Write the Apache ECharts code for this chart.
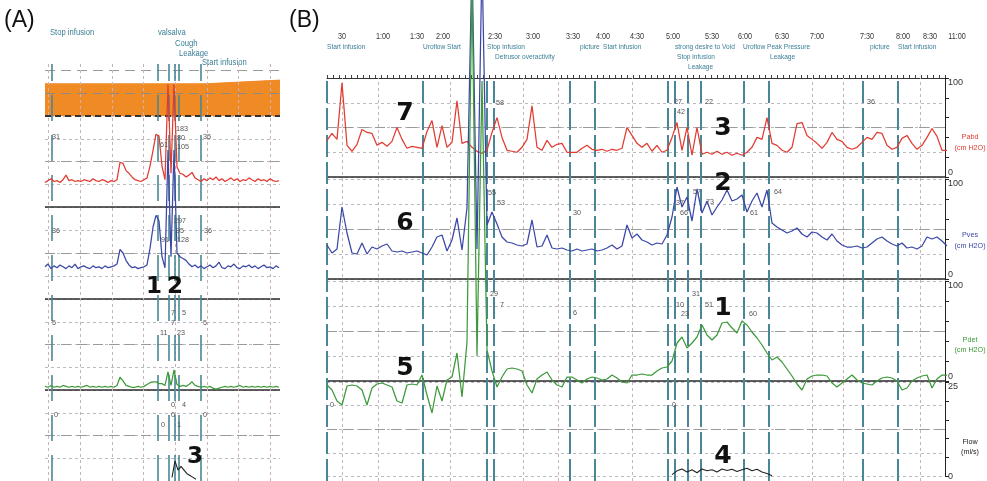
<!DOCTYPE html>
<html>
<head>
<meta charset="utf-8">
<script src="https://cdn.jsdelivr.net/npm/echarts@6.0.0/dist/echarts.min.js"></script>
<style>
html,body{margin:0;padding:0;background:#fff;}
#chart{width:987px;height:481px;}
</style>
</head>
<body>
<div id="chart"></div>
<script>
// ================= DATA =================
// Panel B : one sample every 5 time units (axis 0..618)
const pabdB = [37,44,38,95,32,26,33,48,45,44,
 32,35,31,36,50,38,29,31,30,29,
 46,57,30,52,30,35,77,34,36,30,
 26,24,27,45,60,40,27,26,25,30,
 38,72,30,27,37,30,33,34,25,25,
 25,29,32,28,27,28,26,28,27,29,
 50,42,34,30,34,26,32,25,27,40,
 55,27,50,22,50,23,25,23,26,23,
 25,22,24,22,25,30,40,38,60,34,
 32,27,25,30,54,55,42,38,34,29,
 35,45,38,36,30,28,30,35,40,38,
 45,44,32,28,30,39,42,34,28,32,
 40,49,41,27,27];
const pvesB = [34,26,30,72,46,26,25,36,25,32,
 30,33,35,28,27,28,26,27,28,26,
 24,32,42,44,28,39,61,29,71,320,
 30,320,54,67,55,42,37,36,34,33,
 35,59,32,33,44,31,30,31,29,28,
 30,28,29,30,28,29,31,34,30,33,
 54,41,45,39,37,34,36,35,44,62,
 92,72,82,58,90,66,78,64,72,79,
 89,78,80,84,67,78,86,72,89,56,
 52,49,46,48,51,45,42,47,46,42,
 39,45,38,34,32,32,33,31,32,36,
 40,42,38,35,33,36,31,32,30,33,
 42,40,42,38,33];
const pdetB = [-4,-9,-20,-24,-5,-4,-5,-9,-24,-7,
 -3,-2,-4,-6,-20,-22,-4,-3,-4,6,
 -14,-32,-5,-20,1,4,28,-16,39,400,
 25,300,31,10,-6,4,12,13,12,10,
 -4,-12,2,6,9,1,-4,-6,4,4,
 1,-2,2,4,3,1,2,6,3,-1,
 -2,6,6,7,6,6,10,13,14,20,
 38,44,33,38,44,56,46,41,46,58,
 59,53,48,60,56,49,43,36,28,21,
 24,19,12,5,-3,-9,2,5,6,6,
 5,-2,-6,-2,2,6,1,-2,-3,-4,
 0,3,4,3,0,-9,-7,0,3,5,
 6,-7,2,6,6];
const flowB = [[345,0.5],[350,1.5],[355,2],[360,1.2],[365,1.8],[370,1],[375,2],[380,1.5],[385,1.8],[390,1.2],[395,2],[400,1.6],[405,1.9],[410,1.3],[415,1.8],[420,2.2],[425,1.5],[430,1.9],[435,1.2],[440,0.8],[445,0.2]];
const timeLabels = ['30','1:00','1:30','2:00','2:30','3:00','3:30','4:00','4:30','5:00','5:30','6:00','6:30','7:00','7:30','8:00','8:30','11:00'];
const timePos = [15,56,90,116,168,206,246,276,310,346,385,418,455,490,540,576,603,630];
const eventMarkersB = [0,96,160,167,243,268,341,348,361,374,417,442,536,571];
const eventLabelsB = ['Start infusion','Uroflow Start','Stop infusion','Detrusor overactivity','picture','Start infusion','strong desire to Void','Stop infusion','Leakage','Uroflow Peak Pressure','Leakage','picture','Start infusion'];
const eventLabelPosB = [0,96,160,168,253,276,348,350,361,416,443,543,571];
const eventLabelRowB = [0,0,0,1,0,0,0,1,2,0,1,0,0];
const gridLinesB = [15,51,123,196,231,305,485,516,593];

// Panel A : one sample every 3 time units (axis 0..235)
const volAx = [0,160,235];
const volAy = [70,70,78];
const pabdA = [27,29,31,28,29,27,30,35,29,30,
 28,29,28,30,29,28,31,29,28,30,
 29,27,29,28,30,49,48,40,37,33,
 30,29,28,30,32,45,62,80,78,45,
 30,135,37,135,44,37,36,33,35,38,
 32,30,28,31,29,32,30,33,29,31,
 28,30,32,29,31,28,30,29,32,30,
 28,31,29,30,28,31,29,28,29];
const pvesA = [35,38,33,36,34,37,35,33,36,34,
 38,33,35,36,34,33,36,34,35,33,
 36,34,35,36,38,54,50,42,37,34,
 35,33,34,35,37,55,78,91,85,46,
 34,162,46,162,50,46,44,42,38,35,
 37,34,36,33,35,37,34,36,40,34,
 33,36,35,38,34,33,36,35,37,34,
 36,33,35,37,34,35,33,36,34];
const pdetA = [4,3,5,3,4,3,5,4,3,4,
 3,4,3,4,5,3,4,3,4,3,
 4,3,4,3,5,14,10,5,4,3,
 3,4,3,4,6,8,9,9,7,7,
 5,20,5,22,6,4,5,4,6,9,
 5,4,3,4,3,4,2,1,2,3,
 4,3,4,3,4,5,3,4,3,4,
 3,4,3,4,3,4,3,4,3];
const flowA = [[127,1],[130,5.5],[133,3],[136,4],[139,3],[142,2],[145,1.5],[148,1],[151,0.5]];
const eventMarkersA = [7,113,124,130,134,156];
const eventLabelsA = ['Stop infusion','valsalva','Cough','Leakage','Start infusion'];
const eventLabelPosA = [5,113,130,134,157];
const eventLabelRowA = [0,0,1,2,3];
const gridLinesA = [3,35,67,98,130,162,193,225];

// ================= CHART =================
const FONT = '"Liberation Sans", Arial, sans-serif';
const RED = '#e23b30', BLUE = '#3b47a6', GREEN = '#3d9a3a', TEAL = '#4a8796', BLACK = '#222';
const chart = echarts.init(document.getElementById('chart'));

const A_MAX = 235, B_MAX = 618;
const grids = [
  {left:45, top:70, width:235, height:46},
  {left:45, top:116, width:235, height:91},
  {left:45, top:207, width:235, height:92},
  {left:45, top:299, width:235, height:91},
  {left:45, top:390, width:235, height:93},
  {left:327, top:78, width:618, height:99},
  {left:327, top:179, width:618, height:100},
  {left:327, top:281, width:618, height:100},
  {left:327, top:382, width:618, height:96},
  {left:45, top:64, width:235, height:420},
  {left:327, top:78, width:618, height:406}
];

const xAxis = grids.map((g,i) => {
  const isB = (i >= 5 && i <= 8) || i === 10;
  const ax = {type:'value', gridIndex:i, min:0, max: isB ? B_MAX : A_MAX, show:false};
  if (i === 5) {
    Object.assign(ax, {show:true, position:'top', interval:6,
      axisLine:{show:true, onZero:false, lineStyle:{color:'#333', width:1}},
      axisTick:{show:true, length:3, lineStyle:{color:'#444'}},
      axisLabel:{show:false}, splitLine:{show:false}});
  }
  return ax;
});

const splitStyle = {show:true, lineStyle:{color:'#b9b9c4', type:[3,3], width:1}};
function gridY(gi, max, interval, split) {
  return {type:'value', gridIndex:gi, min:0, max:max, interval:interval,
    axisLine:{show:false}, axisTick:{show:false}, axisLabel:{show:false},
    splitLine: split ? splitStyle : {show:false}};
}
const yAxis = [
  gridY(0,100,50,false),   //0
  gridY(1,100,25,true),    //1
  gridY(2,100,25,true),    //2
  gridY(3,100,25,true),    //3
  gridY(4,25,6.25,true),   //4
  gridY(5,100,25,true),    //5
  gridY(6,100,25,true),    //6
  gridY(7,100,25,true),    //7
  gridY(8,25,6.25,true)    //8
];
function rightY(gi, max, interval) {
  return {type:'value', gridIndex:gi, min:0, max:max, interval:interval, position:'right',
    axisLine:{show:true, lineStyle:{color:'#222', width:1}},
    axisTick:{show:true, length:4, lineStyle:{color:'#222'}},
    splitLine:{show:false},
    axisLabel:{show:true, color:'#333', fontSize:9, fontFamily:'Arial', margin:3,
      formatter: v => v === max ? ' \n' + v : (v === 0 ? (max === 100 ? '0\n ' : '0') : '')}};
}
yAxis.push(rightY(5,100,20));  //9
yAxis.push(rightY(6,100,20));  //10
yAxis.push(rightY(7,100,20));  //11
yAxis.push(rightY(8,25,5));    //12
yAxis.push({type:'value', gridIndex:9, min:0, max:1, show:false});  //13
yAxis.push({type:'value', gridIndex:10, min:0, max:1, show:false}); //14

const ML = (lines) => ({symbol:['none','none'], silent:true, animation:false, z:3,
  label:{show:false}, emphasis:{disabled:true}, data: lines});
const hLine = (v, color, type, width) => ({yAxis:v, lineStyle:{color, type, width}});
const vLine = (v, color, type, width) => ({xAxis:v, lineStyle:{color, type, width}});

function trace(arr, step, xi, yi, color, marks) {
  return {type:'line', xAxisIndex:xi, yAxisIndex:yi, data: arr.map((v,i)=>[i*step, v]),
    symbol:'none', clip:false, z:4, lineStyle:{color, width:1.25}, animation:false,
    markLine: ML(marks)};
}
const rowMarks = (mid) => [hLine(0,'#2b2b2b','solid',1.5), hLine(mid,'#9a9a9a',[10,6],1.2)];

const series = [
  {type:'line', xAxisIndex:0, yAxisIndex:0, data: volAx.map((x,i)=>[x, volAy[i]]),
   symbol:'none', z:1, animation:false, lineStyle:{color:'#f08a24', width:1},
   areaStyle:{color:'#f08a24', opacity:1},
   markLine: Object.assign(ML([hLine(0,'#333',[6,4],2), hLine(50,'#8a8a8a',[10,6],1.2), hLine(100,'#9a9a9a',[10,6],1.2)]), {z:2})},
  trace(pabdA, 3, 1, 1, RED, rowMarks(50)),
  trace(pvesA, 3, 2, 2, BLUE, rowMarks(50)),
  trace(pdetA, 3, 3, 3, GREEN, rowMarks(50)),
  {type:'line', xAxisIndex:4, yAxisIndex:4, data: flowA, symbol:'none', clip:false, z:4, animation:false,
   lineStyle:{color:BLACK, width:1.1}, markLine: ML([hLine(12.5,'#9a9a9a',[10,6],1.2)])},
  trace(pabdB, 5, 5, 9, RED, rowMarks(50)),
  trace(pvesB, 5, 6, 10, BLUE, rowMarks(50)),
  trace(pdetB, 5, 7, 11, GREEN, rowMarks(50)),
  {type:'line', xAxisIndex:8, yAxisIndex:12, data: flowB, symbol:'none', clip:false, z:4, animation:false,
   lineStyle:{color:BLACK, width:1.1}, markLine: ML([hLine(12.5,'#9a9a9a',[10,6],1.2)])},
  {type:'line', xAxisIndex:9, yAxisIndex:13, data:[[0,-5]], symbol:'none', z:2, animation:false,
   lineStyle:{opacity:0},
   markLine: ML(gridLinesA.map(v=>vLine(v,'#c9b2b2',[3,3],1)).concat(eventMarkersA.map(v=>vLine(v,TEAL,[26,14],1.6))))},
  {type:'line', xAxisIndex:10, yAxisIndex:14, data:[[0,-5]], symbol:'none', z:2, animation:false,
   lineStyle:{opacity:0},
   markLine: ML(gridLinesB.map(v=>vLine(v,'#c9b2b2',[3,3],1)).concat(eventMarkersB.map(v=>vLine(v,TEAL,[22,5],2))))}
];

chart.setOption({animation:false, backgroundColor:'#fff', grid:grids, xAxis, yAxis, series});

// ---------- texts ----------
const px = (axisIdx, v) => chart.convertToPixel({xAxisIndex: axisIdx}, v);
const T = (text, x, y, fill, font, align, sx) => ({type:'text', x, y, silent:true, z:10, scaleX: sx || 1,
  style:{text, fill, font, textAlign: align || 'left', textVerticalAlign:'middle', verticalAlign:'middle'}});
const g = [];
g.push(T('(A)', 4, 21, '#111', '23px ' + FONT));
g.push(T('(B)', 289, 21, '#111', '23px ' + FONT));
timeLabels.forEach((t,i) => g.push(T(t, px(5, timePos[i]), 37, '#333', '8.5px ' + FONT, 'center', 0.85)));
const rowYB = [47, 57, 67];
eventLabelsB.forEach((t,i) => g.push(T(t, px(5, eventLabelPosB[i]), rowYB[eventLabelRowB[i]], '#3a7f96', '8px ' + FONT, 'left', 0.82)));
const rowYA = [33, 44, 54, 63];
eventLabelsA.forEach((t,i) => g.push(T(t, px(1, eventLabelPosA[i]), rowYA[eventLabelRowA[i]], '#3a7f96', '9px ' + FONT, 'left', 0.85)));
[['Pabd',137,RED],['(cm H2O)',148,RED],['Pves',235,BLUE],['(cm H2O)',246,BLUE],
 ['Pdet',340,GREEN],['(cm H2O)',350,GREEN],['Flow',442,'#222'],['(ml/s)',452,'#222']]
 .forEach(n => g.push(T(n[0], 970, n[1], n[2], '8px ' + FONT, 'center', 0.9)));
const annA = [['31',52,137],['35',203,137],['183',176,129],['80',177,138],['61',160,145],['105',177,147],
 ['36',52,231],['36',204,231],['297',174,221],['95',176,231],['91',161,240],['128',177,240],
 ['7',171,313],['5',182,313],['5',52,323],['7',171,323],['5',203,323],['11',160,333],['23',177,333],
 ['0',171,405],['4',182,405],['0',54,415],['0',171,415],['0',203,415],['0',161,425],['1',177,425]];
const annB = [['58',496,103],['27',674,102],['42',677,112],['22',705,102],['36',867,102],
 ['55',488,193],['53',497,203],['30',573,213],['37',676,203],['66',680,213],['57',693,192],['73',706,202],['61',750,213],['64',774,192],
 ['29',490,294],['7',500,305],['6',573,313],['10',676,305],['23',681,314],['31',692,294],['51',705,305],['60',749,314],['0',330,405],['0',672,405]];
annA.concat(annB).forEach(a => g.push(T(a[0], a[1], a[2], '#555', '8px ' + FONT, 'left', 0.9)));
const BIG = 'bold 23px "DejaVu Sans", Verdana, sans-serif';
const BIGB = 'bold 25px "DejaVu Sans", Verdana, sans-serif';
[['1',154,287],['2',175,287],['3',195,457]].forEach(c => g.push(T(c[0], c[1], c[2], '#111', BIG, 'center')));
[['7',405,113],['6',405,223],['5',405,368],['3',723,128],['2',723,183],['1',723,308],['4',723,456]]
 .forEach(c => g.push(T(c[0], c[1], c[2], '#111', BIGB, 'center')));
chart.setOption({graphic: g});
</script>
</body>
</html>
